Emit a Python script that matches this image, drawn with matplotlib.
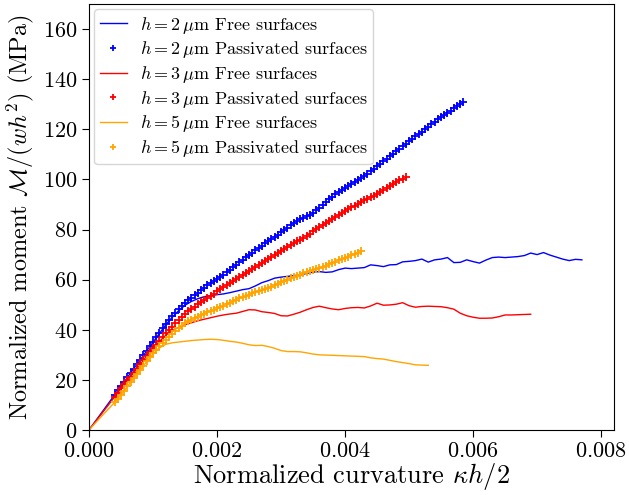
import numpy as np
import matplotlib
matplotlib.use('Agg')
import matplotlib.pyplot as plt

plt.rcParams['font.family'] = 'serif'
plt.rcParams['font.serif'] = ['cmr10']
plt.rcParams['mathtext.fontset'] = 'cm'
plt.rcParams['axes.formatter.use_mathtext'] = True

# Free surfaces, sampled every 1e-4 in curvature starting at 0
m_free_2 = [0, 3.5, 7.0, 10.5, 14.0, 17.5, 21.0, 24.5, 28.0, 31.5,
            35.0, 38.5, 42.0, 45.0, 47.6, 49.8, 51.3, 52.4, 53.2, 53.6,
            54.0, 54.3, 54.8, 55.4, 56.0, 56.4, 57.5, 58.8, 59.6, 60.6,
            61.0, 61.3, 61.6, 61.9, 62.5, 63.0, 63.2, 62.9, 63.1, 64.0,
            64.6, 64.4, 64.6, 64.8, 65.9, 65.6, 65.2, 65.9, 66.0, 67.1,
            67.3, 67.6, 68.2, 67.0, 67.9, 68.2, 68.8, 66.8, 66.9, 67.9,
            67.2, 66.6, 67.8, 68.8, 69.0, 68.8, 69.0, 69.2, 69.6, 70.6,
            70.0, 70.8, 69.8, 69.0, 68.2, 67.6, 68.1, 67.9]
m_free_3 = [0, 3.3, 6.6, 9.9, 13.2, 16.6, 19.8, 22.8, 26.2, 29.5,
            32.6, 35.4, 37.8, 39.6, 41.0, 42.0, 42.8, 43.6, 44.2, 44.8,
            45.4, 45.9, 46.3, 46.6, 47.3, 48.0, 47.9, 47.2, 46.9, 46.5,
            45.6, 45.5, 46.2, 47.0, 48.0, 48.9, 49.4, 48.8, 48.3, 48.0,
            48.5, 48.8, 48.9, 48.7, 49.5, 50.6, 49.8, 49.9, 50.2, 50.8,
            49.6, 49.0, 49.3, 49.4, 49.3, 49.2, 48.8, 48.2, 46.6, 45.6,
            45.0, 44.6, 44.6, 44.7, 45.2, 45.9, 45.9, 46.0, 46.1, 46.2]
m_free_5 = [0, 2.8, 5.6, 8.3, 11.0, 14.0, 17.4, 20.7, 24.0, 27.3,
            30.4, 32.8, 34.2, 34.8, 35.1, 35.4, 35.7, 35.9, 36.1, 36.2,
            36.1, 35.8, 35.4, 35.1, 34.6, 34.0, 33.7, 33.8, 33.3, 32.6,
            31.7, 31.3, 31.3, 31.2, 30.8, 30.3, 30.0, 29.9, 29.8, 29.7,
            29.6, 29.5, 29.4, 29.3, 28.8, 28.5, 28.3, 27.8, 27.3, 26.9,
            26.5, 26.0, 25.9, 25.8]

# Passivated surfaces, sampled every 5e-5 in curvature
k_pass_start = 0.0004
k_pass_end = {2: 0.00585, 3: 0.00495, 5: 0.00425}
m_pass_2 = [14.0, 15.8, 17.5, 19.3, 21.0, 22.8, 24.5, 26.3, 28.0, 29.8,
            31.5, 33.4, 35.3, 37.0, 38.8, 40.6, 42.3, 43.8, 45.3, 46.7,
            48.1, 49.4, 50.6, 51.8, 52.8, 53.8, 54.8, 55.9, 56.8, 57.7,
            58.6, 59.5, 60.3, 61.1, 62.0, 63.1, 64.0, 65.0, 66.0, 66.9,
            67.8, 68.9, 69.8, 70.8, 71.7, 72.7, 73.6, 74.5, 75.4, 76.3,
            77.2, 78.0, 78.9, 79.8, 80.7, 81.7, 82.6, 83.4, 84.1, 84.7,
            85.2, 85.8, 86.6, 87.6, 88.6, 89.8, 90.9, 92.0, 93.0, 94.0,
            94.8, 95.6, 96.4, 97.2, 98.0, 98.8, 99.6, 100.4, 101.3, 102.2,
            103.2, 104.2, 105.2, 106.2, 107.2, 108.2, 109.2, 110.2, 111.2, 112.3,
            113.3, 114.3, 115.3, 116.3, 117.2, 118.1, 119.0, 120.0, 121.0, 122.0,
            123.0, 123.9, 124.8, 125.6, 126.5, 127.4, 128.3, 129.3, 130.2, 131.0]
m_pass_3 = [13.2, 14.9, 16.6, 18.3, 19.8, 21.3, 22.8, 24.5, 26.2, 27.9,
            29.5, 31.1, 32.6, 34.1, 35.6, 37.1, 38.6, 40.0, 41.3, 42.6,
            43.9, 45.2, 46.4, 47.4, 48.4, 49.2, 50.1, 51.0, 51.9, 52.7,
            53.5, 54.4, 55.3, 56.3, 57.1, 57.9, 58.7, 59.5, 60.3, 61.0,
            61.8, 62.6, 63.4, 64.2, 65.0, 65.8, 66.6, 67.3, 68.1, 68.9,
            69.7, 70.5, 71.3, 72.2, 73.0, 73.8, 74.6, 75.3, 76.0, 76.8,
            77.6, 78.4, 79.3, 80.3, 81.2, 81.9, 82.6, 83.3, 84.1, 84.9,
            85.7, 86.5, 87.3, 88.1, 88.8, 89.5, 90.2, 90.9, 91.6, 92.2,
            92.9, 93.5, 94.2, 95.0, 95.7, 96.5, 97.2, 98.0, 98.8, 99.7,
            100.1, 101.0]
m_pass_5 = [11.0, 12.5, 14.0, 15.7, 17.4, 19.1, 20.7, 22.3, 24.0, 25.7,
            27.4, 29.0, 30.6, 32.0, 33.4, 34.8, 36.1, 37.3, 38.5, 39.6,
            40.6, 41.6, 42.5, 43.3, 44.0, 44.6, 45.2, 45.8, 46.4, 46.9,
            47.5, 48.0, 48.6, 49.1, 49.6, 50.2, 50.8, 51.4, 51.9, 52.5,
            53.0, 53.5, 54.0, 54.5, 55.0, 55.4, 55.8, 56.2, 56.7, 57.2,
            57.8, 58.4, 58.9, 59.5, 60.0, 60.6, 61.1, 61.6, 62.0, 62.5,
            62.9, 63.3, 63.7, 64.2, 64.6, 65.1, 65.6, 66.1, 66.6, 67.1,
            67.7, 68.2, 68.7, 69.2, 69.7, 70.2, 70.7, 71.3]

thicknesses = [2, 3, 5]
colors = ['blue', 'red', 'orange']
free = {2: m_free_2, 3: m_free_3, 5: m_free_5}
passivated = {2: m_pass_2, 3: m_pass_3, 5: m_pass_5}

fig = plt.figure(figsize=(6.29, 4.95), dpi=100)
ax = fig.add_axes([0.1415, 0.1313, 0.8345, 0.8607])

for h, c in zip(thicknesses, colors):
    yf = np.array(free[h])
    kf = np.arange(len(yf)) * 1e-4
    ax.plot(kf, yf, '-', color=c, lw=1.0,
            label=r'$h=%d\,\mu\mathrm{m}$ Free surfaces' % h)
    yp = np.array(passivated[h])
    kp = np.linspace(k_pass_start, k_pass_end[h], len(yp))
    ax.plot(kp, yp, '+', color=c, ms=5.5, mew=1.3,
            label=r'$h=%d\,\mu\mathrm{m}$ Passivated surfaces' % h)

ax.set_xlim(0, 0.0082)
ax.set_ylim(0, 170)
ax.set_xticks([0, 0.002, 0.004, 0.006, 0.008])
ax.set_yticks(np.arange(0, 161, 20))
ax.tick_params(labelsize=16, length=5)
ax.set_xlabel(r'Normalized curvature $\kappa h/2$', fontsize=19, labelpad=0)
ax.set_ylabel(r'Normalized moment $\mathcal{M}/(wh^2)$ (MPa)', fontsize=17.5,
              labelpad=5)

ax.legend(loc='upper left', fontsize=13, markerscale=0.8, handlelength=1.5,
          borderaxespad=0.3, labelspacing=0.2, handletextpad=0.7,
          borderpad=0.3)

fig.savefig('out.png', dpi=100)
